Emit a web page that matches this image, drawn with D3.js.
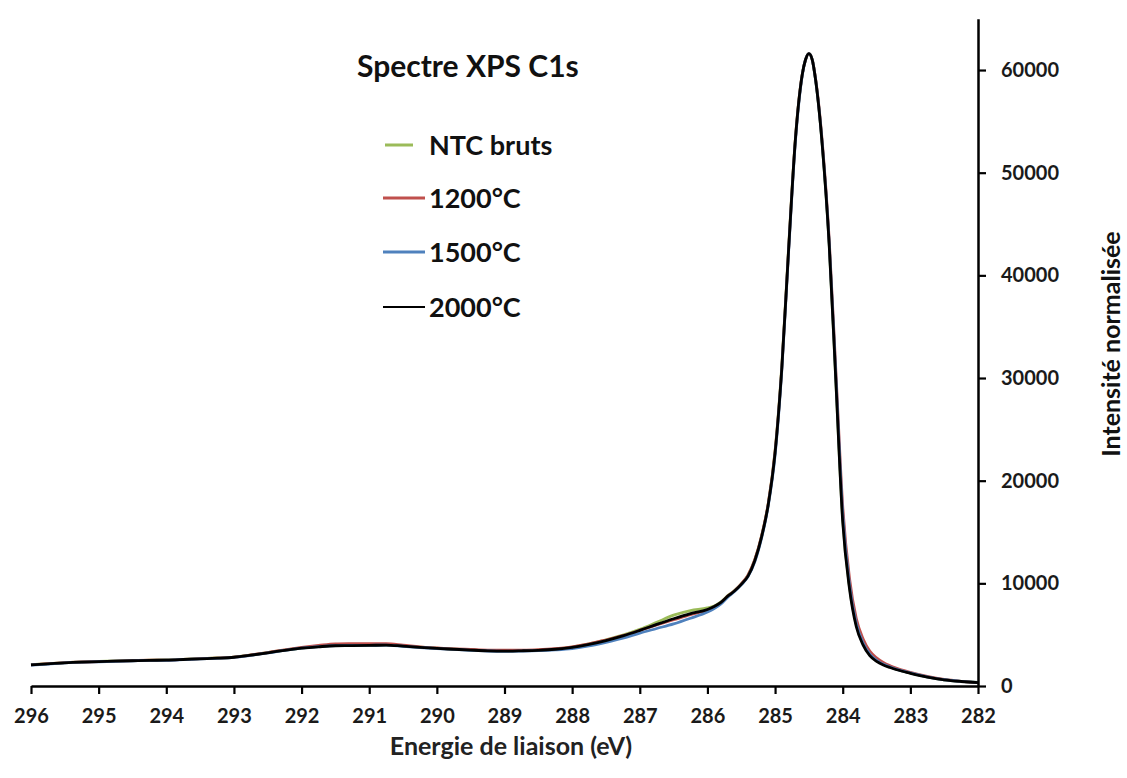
<!DOCTYPE html>
<html>
<head>
<meta charset="utf-8">
<script src="https://cdn.jsdelivr.net/npm/d3@7"></script>
<style>
  html, body { margin: 0; padding: 0; background: #fff; }
  svg { display: block; font-family: Lato, "Open Sans", "DejaVu Sans", sans-serif; }
</style>
</head>
<body>
<svg id="chart" width="1127" height="778"></svg>
<script>
// ---- data ----
const energies = [296, 295.75, 295.5, 295.25, 295, 294.75, 294.5, 294.25, 294, 293.75, 293.5, 293.25, 293,
  292.75, 292.5, 292.25, 292, 291.75, 291.5, 291.25, 291, 290.75, 290.5, 290.25, 290,
  289.75, 289.5, 289.25, 289, 288.75, 288.5, 288.25, 288, 287.75, 287.5, 287.25, 287, 286.75, 286.5, 286.25, 286,
  285.9, 285.8, 285.7, 285.6, 285.5, 285.4, 285.3, 285.2, 285.1, 285.0, 284.9, 284.8, 284.7, 284.6, 284.55, 284.5, 284.45, 284.4,
  284.3, 284.2, 284.1, 284.0, 283.9, 283.8, 283.7, 283.6, 283.5, 283.4, 283.3, 283.2, 283.0, 282.75, 282.5, 282.25, 282];

const ntcBruts = [2080, 2180, 2280, 2350, 2390, 2440, 2480, 2510, 2540, 2600, 2670, 2730, 2820,
  3020, 3260, 3500, 3700, 3850, 3950, 3970, 3980, 4000, 3900, 3780, 3680,
  3600, 3520, 3450, 3420, 3450, 3500, 3600, 3790, 4100, 4500, 4950, 5520, 6200, 6900, 7350, 7600,
  7800, 8200, 8800, 9300, 9950, 10800, 12300, 14600, 17800, 22900, 31200, 42700, 53300, 59500, 61000, 61600, 61000, 59000,
  52500, 43000, 29500, 16200, 9700, 6000, 4150, 3050, 2480, 2110, 1850, 1620, 1270, 890, 610, 450, 340];

const t1200 = [2060, 2170, 2270, 2340, 2380, 2430, 2470, 2510, 2530, 2590, 2660, 2720, 2810,
  3020, 3260, 3530, 3760, 3950, 4100, 4120, 4130, 4120, 3980, 3820, 3700,
  3620, 3560, 3500, 3480, 3500, 3550, 3650, 3820, 4100, 4480, 4900, 5420, 5950, 6450, 6950, 7400,
  7720, 8130, 8750, 9280, 9950, 10800, 12300, 14600, 17800, 22800, 31000, 42500, 53200, 59500, 61000, 61600, 61000, 59100,
  52800, 43500, 30500, 17500, 10500, 6600, 4600, 3400, 2750, 2300, 1980, 1720, 1340, 940, 640, 460, 340];

const t1500 = [2040, 2140, 2250, 2320, 2360, 2410, 2450, 2490, 2510, 2570, 2640, 2700, 2790,
  2990, 3220, 3470, 3680, 3830, 3930, 3950, 3960, 3980, 3870, 3750, 3650,
  3560, 3480, 3410, 3380, 3400, 3440, 3520, 3650, 3900, 4250, 4650, 5150, 5600, 6050, 6600, 7200,
  7550, 8000, 8650, 9200, 9850, 10650, 12100, 14400, 17600, 22500, 30800, 42300, 53000, 59400, 61000, 61600, 61000, 59000,
  52600, 43200, 30000, 16800, 9900, 6100, 4200, 3100, 2500, 2120, 1860, 1620, 1270, 890, 610, 450, 340];

const t2000 = [2050, 2150, 2260, 2330, 2370, 2420, 2460, 2500, 2520, 2580, 2650, 2710, 2800,
  3000, 3230, 3480, 3680, 3820, 3920, 3930, 3950, 3990, 3880, 3760, 3660,
  3580, 3500, 3430, 3400, 3430, 3480, 3580, 3760, 4050, 4430, 4880, 5420, 6000, 6550, 7050, 7450,
  7750, 8150, 8750, 9250, 9900, 10700, 12200, 14500, 17700, 22700, 31000, 42500, 53200, 59500, 61000, 61600, 61000, 59000,
  52500, 43000, 29500, 16000, 9500, 5800, 4000, 2950, 2400, 2050, 1800, 1580, 1240, 870, 600, 440, 330];

const seriesNames = ["NTC bruts", "1200°C", "1500°C", "2000°C"];
const seriesValues = [ntcBruts, t1200, t1500, t2000];
const seriesColors = ["#9BBB59", "#C0504D", "#4F81BD", "#000000"];

const xTicks = [296, 295, 294, 293, 292, 291, 290, 289, 288, 287, 286, 285, 284, 283, 282];
const yTicks = [0, 10000, 20000, 30000, 40000, 50000, 60000];

const titleText = "Spectre XPS C1s";
const xLabel = "Energie de liaison (eV)";
const yLabel = "Intensité normalisée";

// ---- chart ----
const svg = d3.select("#chart");
const x = d3.scaleLinear().domain([296, 282]).range([31, 978]);
const y = d3.scaleLinear().domain([0, 65000]).range([686, 18.7]);

const line = d3.line()
  .x(d => x(d[0]))
  .y(d => y(d[1]))
  .curve(d3.curveMonotoneX);

seriesValues.forEach((vals, i) => {
  svg.append("path")
    .datum(energies.map((e, k) => [e, vals[k]]))
    .attr("fill", "none")
    .attr("stroke", seriesColors[i])
    .attr("stroke-width", 2.8)
    .attr("stroke-linejoin", "round")
    .attr("d", line);
});

// x axis
const xAxis = svg.append("g")
  .attr("transform", `translate(0,${y(0)})`)
  .call(d3.axisBottom(x).tickValues(xTicks).tickFormat(d3.format("d"))
    .tickSize(8).tickSizeOuter(0).tickPadding(15));
xAxis.select(".domain").attr("stroke", "#000").attr("stroke-width", 2.5);
xAxis.selectAll(".tick line").attr("stroke", "#000").attr("stroke-width", 2.2);
xAxis.selectAll(".tick text")
  .attr("font-size", 20).attr("font-weight", "bold").attr("font-family", "Lato, sans-serif")
  .attr("fill", "#1a1a1a");

// y axis (right)
const yAxis = svg.append("g")
  .attr("transform", `translate(${x(282)},0)`)
  .call(d3.axisRight(y).tickValues(yTicks).tickFormat(d3.format("d"))
    .tickSize(8).tickSizeOuter(0).tickPadding(15));
yAxis.select(".domain").attr("stroke", "#000").attr("stroke-width", 2.5);
yAxis.selectAll(".tick line").attr("stroke", "#000").attr("stroke-width", 2.2);
yAxis.selectAll(".tick text")
  .attr("font-size", 20).attr("font-weight", "bold").attr("font-family", "Lato, sans-serif")
  .attr("fill", "#1a1a1a");

// axis titles
svg.append("text")
  .attr("x", 511).attr("y", 755)
  .attr("text-anchor", "middle")
  .attr("font-size", 25).attr("font-weight", "bold")
  .attr("fill", "#222")
  .text(xLabel);

svg.append("text")
  .attr("transform", "translate(1120,344) rotate(-90)")
  .attr("text-anchor", "middle")
  .attr("font-size", 25).attr("font-weight", "bold")
  .attr("fill", "#111")
  .text(yLabel);

// title
svg.append("text")
  .attr("x", 357).attr("y", 77)
  .attr("font-size", 30).attr("font-weight", "bold")
  .attr("fill", "#111")
  .text(titleText);

// legend
const legendY = [145, 198, 252, 307];
seriesNames.forEach((name, i) => {
  const x0 = i === 0 ? 385 : 383;
  const x1 = i === 0 ? 413 : 425;
  svg.append("line")
    .attr("x1", x0).attr("x2", x1)
    .attr("y1", legendY[i]).attr("y2", legendY[i])
    .attr("stroke", seriesColors[i])
    .attr("stroke-width", i === 3 ? 2 : 3);
  svg.append("text")
    .attr("x", 429).attr("y", legendY[i] + 10)
    .attr("font-size", 27).attr("font-weight", "bold")
    .attr("fill", "#111")
    .text(name);
});
</script>
</body>
</html>
